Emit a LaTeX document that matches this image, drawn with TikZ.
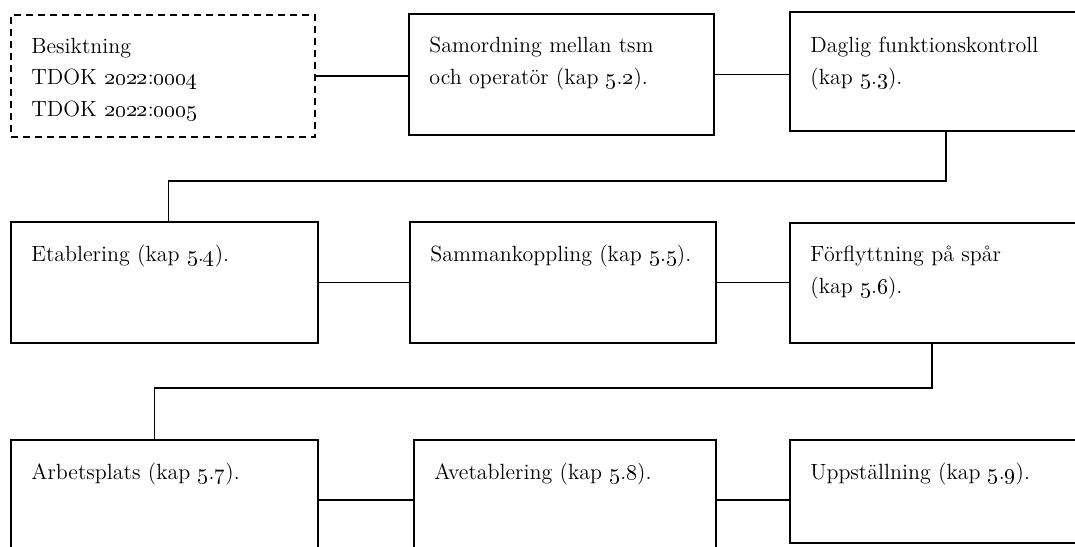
\documentclass[tikz,border=0pt]{standalone}
\usetikzlibrary{fit}
\newcommand{\kapnr}[2]{(kap \oldstylenums{#1}.\oldstylenums{#2}).}
\newcommand{\tdoknr}[2]{TDOK \oldstylenums{#1}:\oldstylenums{#2}}

\begin{document}
\begin{tikzpicture}[x=0.5pt, y=-0.5pt,
  box/.style={draw, line width=1pt, inner sep=0pt},
  dashbox/.style={box, dash pattern=on 3.5pt off 2.5pt},
  txt/.style={anchor=base west, inner sep=0pt, text width=140pt, align=left, font=\fontsize{11}{16}\selectfont},
  link/.style={draw, line width=0.8pt}]
\useasboundingbox (0,0) rectangle (1075,546);
\clip (0,0) rectangle (1075,546);
% --- Row 1 ---
\node[dashbox, fit={(11,15) (315,137)}] (besikt) {};
\node[box, fit={(409,14) (714,135)}] (samord) {};
\node[box, fit={(790,12) (1102,131)}] (daglig) {};
\node[txt] (besikt-t) at ([shift={(21,39)}]besikt.north west) {Besiktning\\\tdoknr{2022}{0004}\\\tdoknr{2022}{0005}};
\node[txt] (samord-t) at ([shift={(21,39)}]samord.north west) {Samordning mellan tsm\\och operatör \kapnr{5}{2}};
\node[txt] (daglig-t) at ([shift={(21,41)}]daglig.north west) {Daglig funktionskontroll\\\kapnr{5}{3}};
\draw[link] (besikt.east) -- (besikt.east -| samord.west);
\draw[link] (samord.east) -- (samord.east -| daglig.west);
% --- Row 2 ---
\node[box, fit={(11,222) (318,343)}] (etabl) {};
\node[box, fit={(410,222) (716,343)}] (sammank) {};
\node[box, fit={(790,223) (1100,343)}] (forfl) {};
\node[txt] (etabl-t) at ([shift={(21,40)}]etabl.north west) {Etablering \kapnr{5}{4}};
\node[txt] (sammank-t) at ([shift={(21,40)}]sammank.north west) {Sammankoppling \kapnr{5}{5}};
\node[txt] (forfl-t) at ([shift={(21,39)}]forfl.north west) {Förflyttning på spår\\\kapnr{5}{6}};
\draw[link] (daglig.south) -- ++(0,49) -| ([xshift=2pt]etabl.north);
\draw[link] (etabl.east) -- (etabl.east -| sammank.west);
\draw[link] (sammank.east) -- (sammank.east -| forfl.west);
% --- Row 3 ---
\node[box, fit={(11,440) (318,560)}] (arbplats) {};
\node[box, fit={(414,440) (716,560)}] (avetabl) {};
\node[box, fit={(790,440) (1100,543)}] (uppst) {};
\node[txt] (arbplats-t) at ([shift={(21,40)}]arbplats.north west) {Arbetsplats \kapnr{5}{7}};
\node[txt] (avetabl-t) at ([shift={(21,40)}]avetabl.north west) {Avetablering \kapnr{5}{8}};
\node[txt] (uppst-t) at ([shift={(21,40)}]uppst.north west) {Uppställning \kapnr{5}{9}};
\draw[link] ([xshift=-6.5pt]forfl.south) -- ++(0,44) -| ([xshift=-5pt]arbplats.north);
\draw[link] (arbplats.east) -- (arbplats.east -| avetabl.west);
\draw[link] (avetabl.east) -- (avetabl.east -| uppst.west);
\end{tikzpicture}
\end{document}
